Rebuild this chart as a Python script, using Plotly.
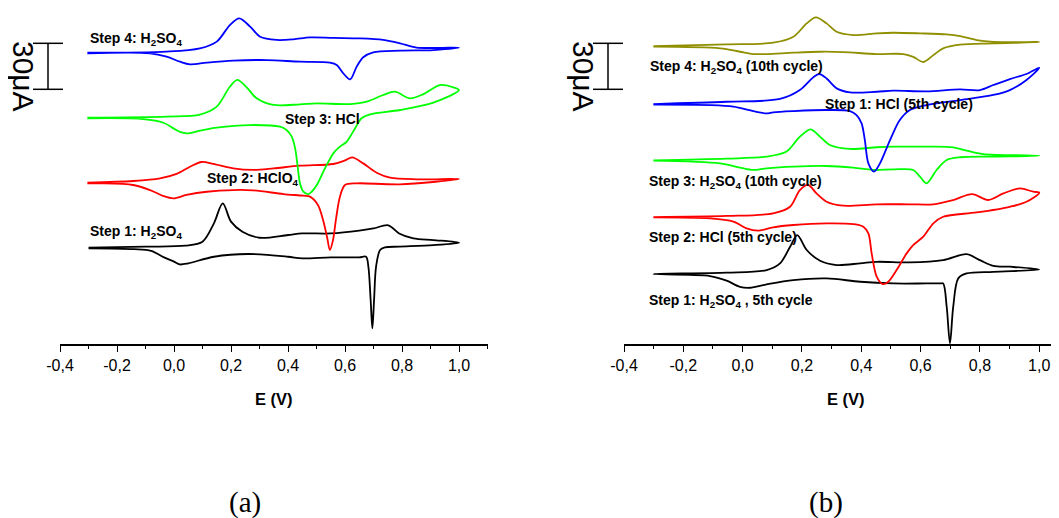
import plotly.graph_objects as go

# ---------------- data (E in V, current in uA) -------------
# Panel (a)
a1_E_fwd = [-0.30, -0.10, 0.04, 0.10, 0.14, 0.171, 0.20, 0.24, 0.30, 0.40, 0.45, 0.55, 0.65, 0.70, 0.752, 0.79, 0.84, 0.91, 1.00]
a1_I_fwd = [0, 0.7, 1.3, 3.9, 15.9, 28.9, 17.0, 10.4, 6.5, 8.3, 9.3, 9.3, 11.1, 12.6, 14.6, 9.3, 6.1, 5.0, 3.3]
a1_E_rev = [1.00, 0.91, 0.79, 0.74, 0.723, 0.709, 0.702, 0.696, 0.690, 0.682, 0.674, 0.65, 0.55, 0.45, 0.40, 0.26, 0.14, 0.05, 0.02, 0.00, -0.035, -0.08, -0.14, -0.30]
a1_I_rev = [3.3, 1.7, 0.7, 0.2, -1.5, -12.4, -34.1, -52.6, -34.1, -12.4, -5.9, -6.3, -6.3, -7.0, -5.9, -4.1, -5.9, -10.2, -10.9, -9.1, -6.3, -2.0, -0.9, -0.4]

a2_E_fwd = [-0.304, -0.143, -0.049, 0.009, 0.056, 0.097, 0.138, 0.208, 0.278, 0.349, 0.442, 0.559, 0.600, 0.625, 0.664, 0.711, 0.758, 0.851, 1.00]
a2_I_fwd = [0, 1.1, 2.8, 5.7, 10.4, 13.5, 12.2, 9.3, 8.3, 9.3, 11.1, 12.2, 14.5, 16.5, 12.6, 6.5, 3.3, 2.2, 2.4]
a2_E_rev = [1.00, 0.793, 0.642, 0.600, 0.582, 0.568, 0.558, 0.547, 0.537, 0.523, 0.505, 0.477, 0.454, 0.384, 0.278, 0.208, 0.115, 0.044, -0.002, -0.037, -0.084, -0.143, -0.26, -0.304]
a2_I_rev = [2.4, -1.1, -0.4, -1.5, -9.3, -24.3, -37.4, -43.9, -35.4, -24.3, -14.5, -9.1, -8.5, -7.4, -5.0, -4.8, -5.9, -8.0, -10.2, -8.7, -4.8, -1.5, -0.4, -0.4]

a3_E_fwd = [-0.304, -0.026, 0.091, 0.150, 0.196, 0.222, 0.255, 0.290, 0.349, 0.442, 0.501, 0.618, 0.676, 0.734, 0.775, 0.828, 0.875, 0.933, 0.980, 1.00]
a3_I_fwd = [0, 0.7, 2.0, 7.2, 20.2, 24.6, 19.8, 12.6, 8.3, 8.7, 9.3, 8.9, 10.4, 14.8, 17.0, 12.6, 15.4, 21.3, 19.8, 18.0]
a3_E_rev = [1.00, 0.910, 0.793, 0.688, 0.658, 0.635, 0.618, 0.606, 0.582, 0.559, 0.542, 0.524, 0.501, 0.483, 0.471, 0.454, 0.442, 0.434, 0.425, 0.413, 0.395, 0.372, 0.267, 0.150, 0.091, 0.044, 0.021, -0.002, -0.037, -0.108, -0.304]
a3_I_rev = [18.0, 9.8, 5.0, 2.2, -0.4, -7.0, -12.4, -15.7, -18.9, -23.3, -28.7, -35.2, -43.9, -48.3, -49.8, -48.3, -42.8, -32.0, -20.0, -12.4, -8.0, -5.9, -4.8, -6.5, -8.5, -10.2, -9.3, -7.0, -3.3, -0.9, -0.4]

a4_E_fwd = [-0.304, -0.026, 0.091, 0.150, 0.196, 0.229, 0.267, 0.302, 0.360, 0.419, 0.477, 0.559, 0.653, 0.734, 0.793, 0.851, 1.00]
a4_I_fwd = [0, 0.7, 2.8, 7.2, 18.0, 22.4, 17.0, 10.4, 8.3, 8.7, 10.0, 9.6, 9.3, 8.3, 6.1, 3.3, 3.3]
a4_E_rev = [1.00, 0.910, 0.793, 0.699, 0.664, 0.641, 0.618, 0.594, 0.571, 0.547, 0.442, 0.325, 0.208, 0.115, 0.056, 0.021, -0.026, -0.084, -0.304]
a4_I_rev = [3.3, 1.7, 1.3, 0.2, -3.0, -9.1, -17.4, -13.5, -8.0, -6.5, -5.9, -4.8, -5.2, -6.5, -7.6, -5.9, -2.6, -0.4, -0.4]

# Panel (b)
b1_E_fwd = [-0.301, -0.054, 0.081, 0.126, 0.160, 0.184, 0.216, 0.261, 0.317, 0.396, 0.452, 0.564, 0.676, 0.755, 0.800, 0.845, 0.901, 1.00]
b1_I_fwd = [0, 0.9, 2.6, 7.0, 17.8, 25.4, 15.7, 8.7, 5.9, 7.0, 8.0, 7.6, 9.1, 13.0, 9.1, 5.4, 4.8, 3.0]
b1_E_rev = [1.00, 0.845, 0.755, 0.727, 0.710, 0.699, 0.688, 0.676, 0.665, 0.620, 0.508, 0.396, 0.283, 0.171, 0.081, 0.025, -0.009, -0.054, -0.110, -0.301]
b1_I_rev = [3.0, 1.5, 0.4, -2.8, -21.3, -45.2, -21.3, -6.1, -6.1, -6.1, -6.1, -5.0, -2.8, -3.9, -6.7, -8.9, -8.3, -4.3, -1.3, 0]

b2_E_fwd = [-0.301, -0.054, 0.103, 0.160, 0.193, 0.221, 0.249, 0.283, 0.339, 0.452, 0.564, 0.643, 0.710, 0.774, 0.828, 0.879, 0.935, 0.980, 1.00]
b2_I_fwd = [0, 0.7, 2.4, 6.7, 17.6, 20.9, 15.4, 10.0, 7.4, 8.3, 8.3, 8.3, 11.1, 15.0, 11.1, 15.4, 18.7, 16.5, 15.9]
b2_E_rev = [1.00, 0.957, 0.901, 0.789, 0.676, 0.643, 0.609, 0.575, 0.553, 0.519, 0.491, 0.472, 0.452, 0.435, 0.424, 0.407, 0.373, 0.283, 0.171, 0.103, 0.053, 0.013, -0.031, -0.110, -0.301]
b2_I_rev = [15.9, 10.0, 6.7, 3.0, 0.2, -4.1, -12.8, -18.3, -23.7, -34.6, -42.2, -43.7, -38.9, -23.7, -10.7, -6.3, -4.6, -4.1, -5.2, -6.7, -8.9, -7.4, -3.0, -0.9, -0.2]

b3_E_fwd = [-0.301, -0.054, 0.081, 0.148, 0.193, 0.229, 0.261, 0.294, 0.362, 0.452, 0.508, 0.620, 0.710, 0.755, 0.811, 1.00]
b3_I_fwd = [0, 1.1, 2.4, 5.7, 15.4, 20.2, 15.4, 10.0, 7.4, 8.5, 8.9, 8.9, 8.5, 6.3, 4.1, 3.0]
b3_E_rev = [1.00, 0.845, 0.733, 0.688, 0.654, 0.620, 0.598, 0.575, 0.508, 0.440, 0.373, 0.283, 0.171, 0.081, 0.036, -0.009, -0.076, -0.301]
b3_I_rev = [3.0, 2.4, 2.0, 0.2, -6.3, -15.0, -10.7, -6.3, -5.9, -6.3, -4.8, -3.7, -4.1, -5.2, -6.3, -4.8, -2.0, -0.2]

b4_E_fwd = [-0.301, -0.054, 0.126, 0.193, 0.238, 0.258, 0.283, 0.317, 0.362, 0.452, 0.508, 0.620, 0.733, 0.800, 0.845, 0.901, 0.957, 1.00]
b4_I_fwd = [0, 1.5, 3.3, 9.1, 17.4, 19.6, 16.7, 10.2, 7.6, 8.0, 8.7, 8.3, 9.6, 9.1, 12.4, 16.3, 19.6, 23.7]
b4_E_rev = [1.00, 0.957, 0.901, 0.845, 0.733, 0.620, 0.564, 0.530, 0.497, 0.463, 0.443, 0.424, 0.412, 0.401, 0.384, 0.362, 0.283, 0.171, 0.103, 0.081, 0.036, -0.031, -0.110, -0.301]
b4_I_rev = [23.7, 15.7, 9.1, 5.9, 2.6, -0.7, -3.9, -10.4, -23.5, -38.7, -44.1, -38.7, -23.5, -12.6, -7.2, -4.6, -3.9, -4.6, -5.4, -6.1, -4.6, -1.7, -0.7, -0.4]

b5_E_fwd = [-0.301, -0.054, 0.103, 0.171, 0.216, 0.247, 0.283, 0.317, 0.373, 0.452, 0.508, 0.598, 0.688, 0.733, 0.789, 0.845, 1.00]
b5_I_fwd = [0, 1.1, 2.2, 6.1, 14.8, 18.7, 14.8, 9.3, 7.2, 8.3, 8.7, 8.3, 7.6, 6.5, 3.9, 2.8, 2.6]
b5_E_rev = [1.00, 0.845, 0.733, 0.676, 0.643, 0.609, 0.575, 0.542, 0.452, 0.339, 0.261, 0.171, 0.081, 0.036, -0.009, -0.076, -0.301]
b5_I_rev = [2.6, 1.7, 0.9, -1.5, -5.9, -10.4, -7.0, -5.2, -5.2, -3.9, -3.7, -4.3, -5.2, -5.2, -3.7, -1.5, -0.4]

# vertical stacking offsets (uA) and styling per curve
a_offsets = [62.8, 105.2, 147.6, 190.0]
b_offsets = [45.6, 82.8, 119.8, 156.5, 194.3]
a_colors = ["#000000", "#ff0000", "#00ff00", "#0000ff"]
b_colors = ["#000000", "#ff0000", "#00ff00", "#0000ff", "#8f8f00"]

a_labels = ["Step 1: H<sub>2</sub>SO<sub>4</sub>", "Step 2: HClO<sub>4</sub>", "Step 3: HCl", "Step 4: H<sub>2</sub>SO<sub>4</sub>"]
a_label_E = [-0.302, 0.109, 0.382, -0.302]
a_label_I = [73.0, 107.6, 146.7, 198.9]
b_labels = ["Step 1: H<sub>2</sub>SO<sub>4</sub> , 5th cycle", "Step 2: HCl (5th cycle)",
            "Step 3: H<sub>2</sub>SO<sub>4</sub> (10th cycle)", "Step 1: HCl (5th cycle)",
            "Step 4: H<sub>2</sub>SO<sub>4</sub> (10th cycle)"]
b_label_E = [-0.322, -0.322, -0.322, 0.271, -0.319]
b_label_I = [28.0, 69.8, 105.7, 156.5, 180.7]

tick_vals = [-0.4, -0.2, 0.0, 0.2, 0.4, 0.6, 0.8, 1.0]
tick_text = ["-0,4", "-0,2", "0,0", "0,2", "0,4", "0,6", "0,8", "1,0"]
scale_bar_uA = 30
scale_bar_top = 196.1

# ---------------- figure ----------------
W, H = 1059, 518
SH = 8  # the page body margin shifts the figure; compensate


def px_x(px):
    return (px - SH) / W


def px_y(py):
    return (H - (py - SH)) / H


fig = go.Figure()

a_curves = [(a1_E_fwd, a1_I_fwd, a1_E_rev, a1_I_rev), (a2_E_fwd, a2_I_fwd, a2_E_rev, a2_I_rev),
            (a3_E_fwd, a3_I_fwd, a3_E_rev, a3_I_rev), (a4_E_fwd, a4_I_fwd, a4_E_rev, a4_I_rev)]
b_curves = [(b1_E_fwd, b1_I_fwd, b1_E_rev, b1_I_rev), (b2_E_fwd, b2_I_fwd, b2_E_rev, b2_I_rev),
            (b3_E_fwd, b3_I_fwd, b3_E_rev, b3_I_rev), (b4_E_fwd, b4_I_fwd, b4_E_rev, b4_I_rev),
            (b5_E_fwd, b5_I_fwd, b5_E_rev, b5_I_rev)]


def add_curves(curves, offsets, colors, xa, ya):
    for (ef, i_f, er, ir), off, col in zip(curves, offsets, colors):
        xs = ef + er[1:]
        ys = [v + off for v in i_f + ir[1:]]
        fig.add_trace(go.Scatter(x=xs, y=ys, mode="lines", xaxis=xa, yaxis=ya,
                                 line=dict(color=col, width=1.8, shape="spline", smoothing=0.9),
                                 hoverinfo="skip", showlegend=False, cliponaxis=False))


add_curves(a_curves, a_offsets, a_colors, "x", "y")
add_curves(b_curves, b_offsets, b_colors, "x2", "y2")

PX_PER_V_A = 285.0
PX_PER_V_B = 296.6
y_dom = [px_y(344), 1.0]
y_rng = [0, (344 - SH) * 30 / 46]

axis_common = dict(showline=True, linecolor="black", linewidth=1.6, ticks="outside", ticklen=6,
                   tickwidth=1.3, tickcolor="black", tickvals=tick_vals, ticktext=tick_text,
                   tickfont=dict(family="Liberation Sans, Arial, sans-serif", size=16, color="black"),
                   showgrid=False, zeroline=False, fixedrange=True,
                   minor=dict(dtick=0.1, tick0=0, ticks="outside", ticklen=3.5, tickwidth=1.2, tickcolor="black"))

fig.update_layout(
    width=W, height=H, margin=dict(l=0, r=0, t=0, b=0, autoexpand=False),
    paper_bgcolor="white", plot_bgcolor="white", showlegend=False,
    xaxis=dict(domain=[px_x(60), px_x(60 + 1.5 * PX_PER_V_A)], range=[-0.4, 1.1], anchor="y", **axis_common),
    xaxis2=dict(domain=[px_x(624), 1.0], range=[-0.4, -0.4 + (W + SH - 624) / PX_PER_V_B], anchor="y2", **axis_common),
    yaxis=dict(domain=y_dom, range=y_rng, visible=False, anchor="x", fixedrange=True),
    yaxis2=dict(domain=y_dom, range=y_rng, visible=False, anchor="x2", fixedrange=True),
)

lab_font = dict(family="Liberation Sans, Arial, sans-serif", size=14, color="black")
for txt, ex, iy in zip(a_labels, a_label_E, a_label_I):
    fig.add_annotation(x=ex, y=iy, xref="x", yref="y", text="<b>" + txt + "</b>", showarrow=False,
                       xanchor="left", yanchor="middle", font=lab_font)
for txt, ex, iy in zip(b_labels, b_label_E, b_label_I):
    fig.add_annotation(x=ex, y=iy, xref="x2", yref="y2", text="<b>" + txt + "</b>", showarrow=False,
                       xanchor="left", yanchor="middle", font=lab_font)

# axis titles and panel letters
for xr in ("x", "x2"):
    fig.add_annotation(x=0.35, y=px_y(399), xref=xr, yref="paper", text="<b>E (V)</b>", showarrow=False,
                       xanchor="center", yanchor="middle",
                       font=dict(family="Liberation Sans, Arial, sans-serif", size=16.5, color="black"))
for txt, cx in (("(a)", 245), ("(b)", 826)):
    fig.add_annotation(x=px_x(cx), y=px_y(502), xref="paper", yref="paper", text=txt, showarrow=False,
                       xanchor="center", yanchor="middle",
                       font=dict(family="Liberation Serif, Times New Roman, serif", size=29, color="black"))

# 30 uA scale bars
for xbar, yref in ((48, "y"), (608, "y2")):
    ybot = scale_bar_top - scale_bar_uA
    fig.add_shape(type="line", xref="paper", yref=yref, x0=px_x(xbar), x1=px_x(xbar), y0=ybot, y1=scale_bar_top,
                  line=dict(color="black", width=1.5))
    for yy in (ybot, scale_bar_top):
        fig.add_shape(type="line", xref="paper", yref=yref, x0=px_x(xbar - 15), x1=px_x(xbar + 15), y0=yy, y1=yy,
                      line=dict(color="black", width=1.5))
    fig.add_annotation(x=px_x(xbar - 25), y=174.8, xref="paper", yref=yref,
                       text="30μA", textangle=90, showarrow=False, xanchor="center", yanchor="middle",
                       font=dict(family="Liberation Sans, Arial, sans-serif", size=30, color="black"))

fig.write_html("out.html")
